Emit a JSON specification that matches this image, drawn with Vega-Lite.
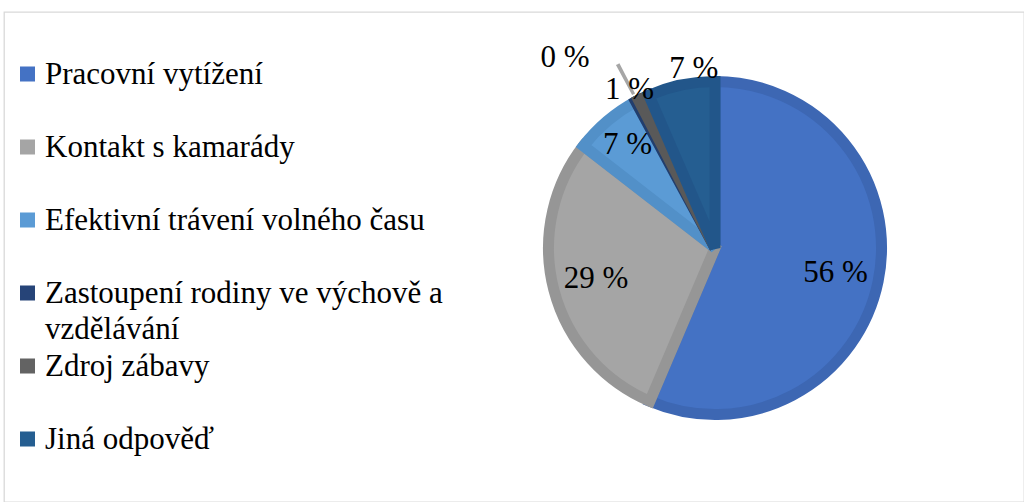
{
  "$schema": "https://vega.github.io/schema/vega-lite/v6.json",
  "width": 1020,
  "height": 490,
  "autosize": {"type": "none"},
  "padding": {"left": 4, "top": 12, "right": 0, "bottom": 0},
  "background": "white",
  "view": {"stroke": "#D9D9D9", "strokeWidth": 1.3},
  "data": {"values": [
    {"i": 1, "cat": "Pracovní vytížení", "value": 56.4, "label": "56 %"},
    {"i": 2, "cat": "Kontakt s kamarády", "value": 29.1, "label": "29 %"},
    {"i": 3, "cat": "Efektivní trávení volného času", "value": 6.6, "label": "7 %"},
    {"i": 4, "cat": "Zastoupení rodiny ve výchově a vzdělávání", "value": 0.3, "label": "0 %"},
    {"i": 5, "cat": "Zdroj zábavy", "value": 1.1, "label": "1 %"},
    {"i": 6, "cat": "Jiná odpověď", "value": 6.5, "label": "7 %"}
  ]},
  "encoding": {
    "theta": {"field": "value", "type": "quantitative", "stack": true},
    "order": {"field": "i", "type": "quantitative"}
  },
  "layer": [
    {
      "mark": {"type": "arc", "outerRadius": 166.5, "strokeWidth": 11, "xOffset": 201, "yOffset": -9},
      "encoding": {
        "color": {
          "field": "cat", "type": "nominal",
          "scale": {
            "domain": ["Pracovní vytížení", "Kontakt s kamarády", "Efektivní trávení volného času", "Zastoupení rodiny ve výchově a vzdělávání", "Zdroj zábavy", "Jiná odpověď"],
            "range": ["#4472C4", "#A5A5A5", "#5B9BD5", "#264478", "#636363", "#255E91"]
          },
          "legend": {
            "orient": "none", "legendX": 8, "legendY": 44, "title": null,
            "symbolType": "square", "symbolSize": 225, "symbolStrokeWidth": 0,
            "labelFont": "Liberation Serif, Times New Roman, Times, serif", "labelFontSize": 31, "labelColor": "#000000",
            "labelLimit": 700, "labelOffset": 2, "clipHeight": 72.7, "rowPadding": 0, "padding": 0,
            "labelBaseline": "alphabetic",
            "labelExpr": "datum.label == 'Zastoupení rodiny ve výchově a vzdělávání' ? ['Zastoupení rodiny ve výchově a', 'vzdělávání'] : datum.label",
            "encode": {
              "symbols": {"update": {"y": {"value": 18}}},
              "labels": {"update": {"y": {"value": 18}, "dy": {"value": 10}, "lineHeight": {"value": 36}}}
            }
          }
        },
        "stroke": {
          "field": "cat", "type": "nominal",
          "scale": {
            "domain": ["Pracovní vytížení", "Kontakt s kamarády", "Efektivní trávení volného času", "Zastoupení rodiny ve výchově a vzdělávání", "Zdroj zábavy", "Jiná odpověď"],
            "range": ["#3D67B3", "#969696", "#5290C8", "#223E6D", "#595959", "#22568A"]
          },
          "legend": null
        }
      }
    },
    {
      "mark": {"type": "arc", "radius": 208, "radius2": 174, "theta2Offset": -0.012, "xOffset": 201, "yOffset": -9, "fill": "#A6A6A6", "stroke": null},
      "encoding": {"opacity": {"condition": {"test": "datum.i == 4", "value": 1}, "value": 0}}
    },
    {
      "mark": {"type": "text", "radius": 123, "fontSize": 31, "font": "Liberation Serif, Times New Roman, Times, serif", "color": "#000000", "xOffset": 201, "yOffset": -9},
      "encoding": {"text": {"condition": {"test": "datum.i <= 2", "field": "label", "type": "nominal"}, "value": ""}}
    },
    {
      "mark": {"type": "text", "radius": 135, "fontSize": 31, "font": "Liberation Serif, Times New Roman, Times, serif", "color": "#000000", "xOffset": 201, "yOffset": -9},
      "encoding": {"text": {"condition": {"test": "datum.i == 3", "field": "label", "type": "nominal"}, "value": ""}}
    },
    {
      "mark": {"type": "text", "radius": 181, "fontSize": 31, "font": "Liberation Serif, Times New Roman, Times, serif", "color": "#000000", "xOffset": 201, "yOffset": -9, "dx": -8, "dy": 6},
      "encoding": {"text": {"condition": {"test": "datum.i == 5", "field": "label", "type": "nominal"}, "value": ""}}
    },
    {
      "mark": {"type": "text", "radius": 183, "fontSize": 31, "font": "Liberation Serif, Times New Roman, Times, serif", "color": "#000000", "xOffset": 201, "yOffset": -9, "dx": 16},
      "encoding": {"text": {"condition": {"test": "datum.i == 6", "field": "label", "type": "nominal"}, "value": ""}}
    },
    {
      "mark": {"type": "text", "radius": 218, "fontSize": 31, "font": "Liberation Serif, Times New Roman, Times, serif", "color": "#000000", "xOffset": 201, "yOffset": -9, "dx": -48, "dy": 3},
      "encoding": {"text": {"condition": {"test": "datum.i == 4", "field": "label", "type": "nominal"}, "value": ""}}
    }
  ]
}
